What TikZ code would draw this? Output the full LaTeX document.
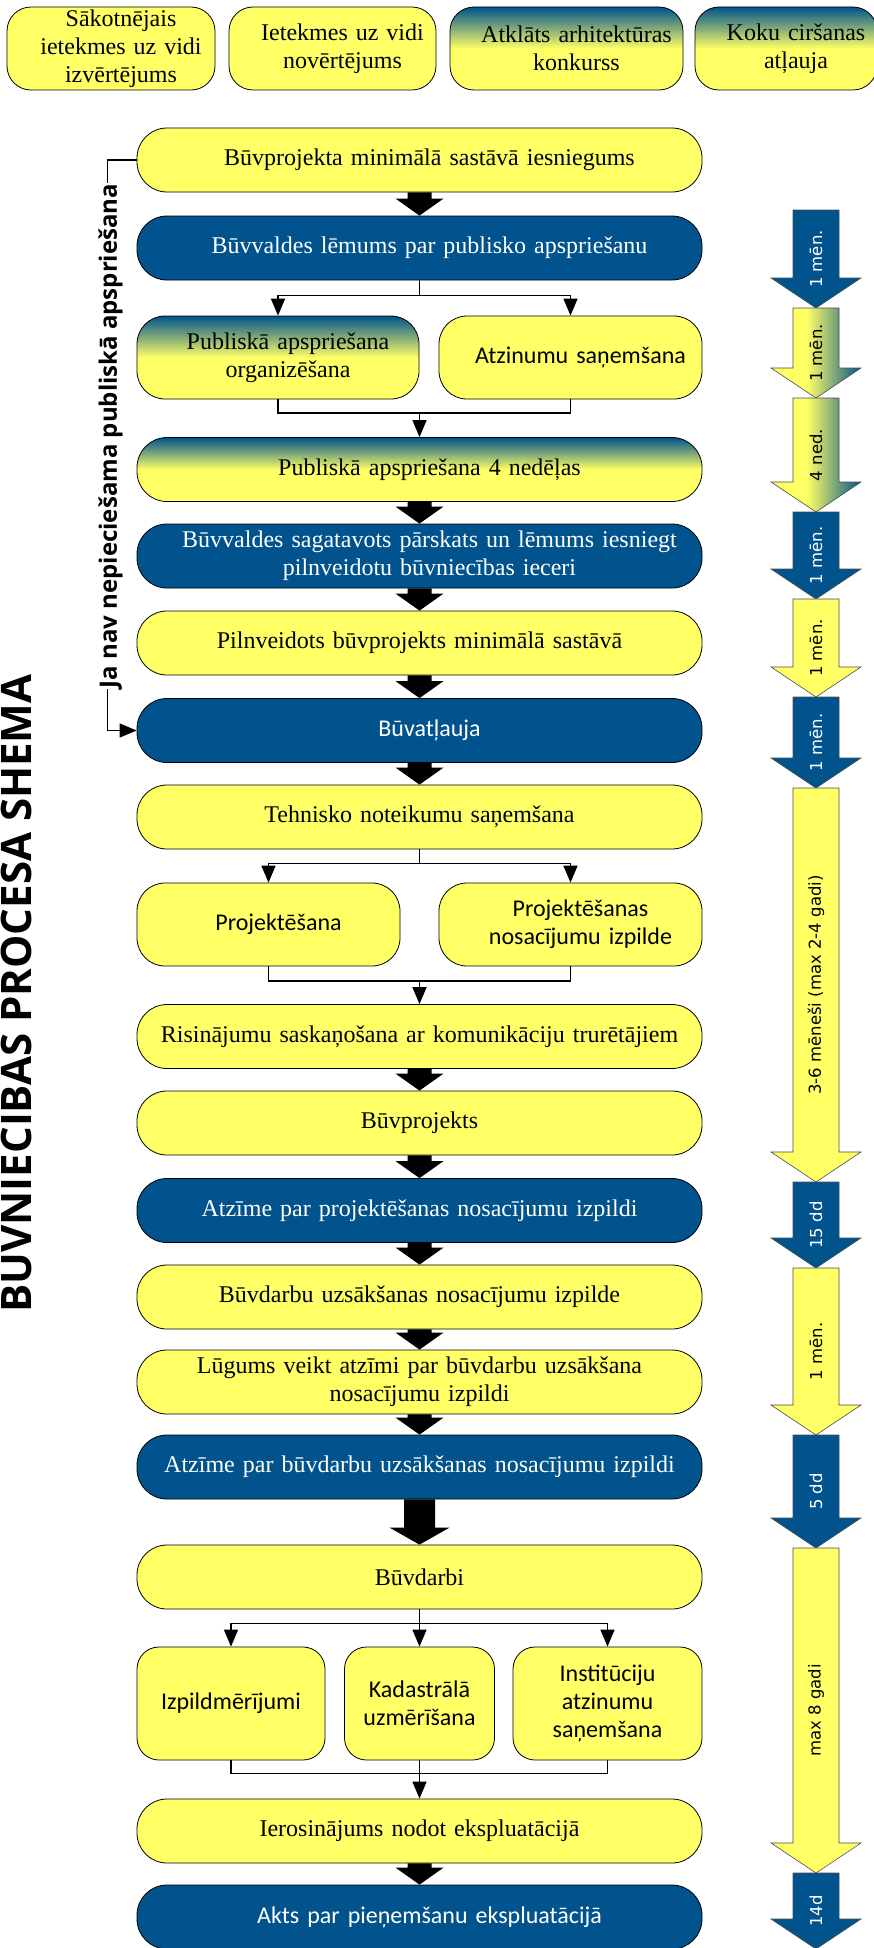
\documentclass[tikz,border=0pt]{standalone}
\usepackage{fontspec}
\setmainfont{Liberation Serif}
\newfontfamily\calibri{Carlito}
\newfontfamily\opensans{Open Sans}
\newfontfamily\dejavu{DejaVu Sans}
\usetikzlibrary{arrows.meta, calc}

\definecolor{boxblue}{RGB}{0,83,141}
\definecolor{boxyellow}{RGB}{255,255,102}

\pgfdeclareverticalshading{bluedown}{100bp}{color(0bp)=(boxyellow); color(25bp)=(boxyellow); color(50bp)=(boxyellow); color(75bp)=(boxblue); color(100bp)=(boxblue)}
\pgfdeclarehorizontalshading{blueright}{100bp}{color(0bp)=(boxyellow); color(25bp)=(boxyellow); color(45bp)=(boxyellow); color(75bp)=(boxblue); color(100bp)=(boxblue)}

\newcommand{\boxfont}{\fontsize{24}{28}\selectfont}
\newcommand{\sansboxfont}{\calibri\fontsize{24}{28}\selectfont}
\newcommand{\durfont}{\dejavu\fontsize{16.5}{18}\selectfont}

\tikzset{
  box/.style={draw=black, line width=0.8pt, align=center, inner sep=2pt, font=\boxfont},
  sans/.style={font=\sansboxfont},
  yellowbox/.style={box, fill=boxyellow},
  bluebox/.style={box, fill=boxblue, text=white},
  fadebox/.style={box, shading=bluedown},
  boxw/.style={minimum width=#1, text width=#1-12pt},
  widebox/.style={boxw=565pt, minimum height=64pt, rounded corners=30pt},
  halfbox/.style={boxw=#1, minimum height=83pt, rounded corners=28pt},
  thirdbox/.style={boxw=#1, minimum height=113pt, rounded corners=22pt},
  topbox/.style={boxw=#1, minimum height=83pt, rounded corners=24pt},
  textoffset/.style={execute at begin node={\advance\leftskip by 20pt}},
  link/.style={line width=1.5pt, -{Triangle[length=17pt,width=14pt]}},
  plainlink/.style={line width=1.5pt},
  durblue/.style={draw=black!70, line width=0.6pt, fill=boxblue},
  duryellow/.style={draw=black!70, line width=0.6pt, fill=boxyellow},
  durfade/.style={draw=black!70, line width=0.6pt, shading=blueright},
  durtextblue/.style={rotate=90, text=white, font=\durfont, inner sep=0pt},
  durtextyellow/.style={rotate=90, font=\durfont, inner sep=0pt},
  durtextfade/.style={rotate=90, font=\durfont, inner sep=0pt}
}

% black block arrow between two boxes: from, to, half shaft, half head
\newcommand{\fatarrow}[4]{%
  \fill ($(#1.south)+(-#3,0)$) -- ($(#1.south)+(#3,0)$) -- ($(#2.north)+(#3,-17)$) -- ($(#2.north)+(#4,-17)$) -- (#2.north) -- ($(#2.north)+(-#4,-17)$) -- ($(#2.north)+(-#3,-17)$) -- cycle;}

% duration arrow on the right: name, top, tip, colour, label
\newcommand{\durarrow}[5]{%
  \draw[dur#4] (793,#2) -- (839,#2) -- (839,{#3-30}) -- (861,{#3-30}) -- (816,#3) -- (771,{#3-30}) -- (793,{#3-30}) -- cycle;
  \node[durtext#4] (#1) at (816,{(#2+#3)/2}) {#5};}

\begin{document}
\begin{tikzpicture}[x=1pt,y=1pt,yscale=-1,xscale=1]
\useasboundingbox (0,0) rectangle (874,1948);

% Text Node
\node[font=\opensans\bfseries\fontsize{42}{42}\selectfont, rotate=90, inner sep=0pt] (virsraksts) at (16,993.5) {BUVNIECIBAS PROCESA SHEMA};

%Shape: top row
\node[yellowbox, topbox=208pt, textoffset] (sakotnejais) at (111,48.5) {Sākotnējais\\ietekmes uz vidi\\izvērtējums};
\node[yellowbox, topbox=207pt, textoffset] (ivn) at (332.5,48.5) {Ietekmes uz vidi\\novērtējums};
\node[fadebox, topbox=233pt, textoffset] (konkurss) at (566.5,48.5) {Atklāts arhitektūras\\konkurss};
\node[fadebox, topbox=182pt, textoffset] (koki) at (786,48.5) {Koku ciršanas\\atļauja};

%Shape: main column
\node[yellowbox, widebox, textoffset] (iesniegums) at (419.5,160) {Būvprojekta minimālā sastāvā iesniegums};
\node[bluebox, widebox, textoffset] (lemums) at (419.5,248) {Būvvaldes lēmums par publisko apspriešanu};
\node[fadebox, halfbox=282pt, textoffset] (organizesana) at (278,357.5) {Publiskā apspriešana\\organizēšana};
\node[yellowbox, sans, halfbox=263pt, textoffset] (atzinumi) at (570.5,357.5) {Atzinumu saņemšana};
\node[fadebox, widebox, textoffset] (apspriesana) at (419.5,469.5) {Publiskā apspriešana 4 nedēļas};
\node[bluebox, widebox, textoffset] (parskats) at (419.5,556) {Būvvaldes sagatavots pārskats un lēmums iesniegt\\pilnveidotu būvniecības ieceri};
\node[yellowbox, widebox] (pilnveidots) at (419.5,643) {Pilnveidots būvprojekts minimālā sastāvā};
\node[bluebox, sans, widebox, textoffset] (buvatlauja) at (419.5,730.5) {Būvatļauja};
\node[yellowbox, widebox] (noteikumi) at (419.5,817) {Tehnisko noteikumu saņemšana};
\node[yellowbox, sans, halfbox=263pt, textoffset] (projektesana) at (268.5,924.5) {Projektēšana};
\node[yellowbox, sans, halfbox=263pt, textoffset] (nosacijumi) at (570.5,924.5) {Projektēšanas\\nosacījumu izpilde};
\node[yellowbox, widebox] (saskanosana) at (419.5,1036.5) {Risinājumu saskaņošana ar komunikāciju trurētājiem};
\node[yellowbox, widebox] (buvprojekts) at (419.5,1123) {Būvprojekts};
\node[bluebox, widebox] (atzimeproj) at (419.5,1210.5) {Atzīme par projektēšanas nosacījumu izpildi};
\node[yellowbox, widebox] (uzsaksana) at (419.5,1297) {Būvdarbu uzsākšanas nosacījumu izpilde};
\node[yellowbox, widebox] (lugums) at (419.5,1382) {Lūgums veikt atzīmi par būvdarbu uzsākšana\\nosacījumu izpildi};
\node[bluebox, widebox] (atzimebuv) at (419.5,1467) {Atzīme par būvdarbu uzsākšanas nosacījumu izpildi};
\node[yellowbox, widebox] (buvdarbi) at (419.5,1577) {Būvdarbi};
\node[yellowbox, sans, thirdbox=188pt] (izpildmer) at (231,1703.5) {Izpildmērījumi};
\node[yellowbox, sans, thirdbox=150pt] (kadastrs) at (419.5,1703.5) {Kadastrālā\\uzmērīšana};
\node[yellowbox, sans, thirdbox=189pt] (institucijas) at (607.5,1703.5) {Institūciju\\atzinumu\\saņemšana};
\node[yellowbox, widebox] (ierosinajums) at (419.5,1831) {Ierosinājums nodot ekspluatācijā};
\node[bluebox, sans, widebox, textoffset] (akts) at (419.5,1917) {Akts par pieņemšanu ekspluatācijā};

%Straight Lines: block arrows
\fatarrow{iesniegums}{lemums}{12}{24}
\fatarrow{apspriesana}{parskats}{12}{24}
\fatarrow{parskats}{pilnveidots}{12}{24}
\fatarrow{pilnveidots}{buvatlauja}{12}{24}
\fatarrow{buvatlauja}{noteikumi}{12}{24}
\fatarrow{saskanosana}{buvprojekts}{12}{24}
\fatarrow{buvprojekts}{atzimeproj}{12}{24}
\fatarrow{atzimeproj}{uzsaksana}{12}{24}
\fatarrow{uzsaksana}{lugums}{12}{24}
\fatarrow{lugums}{atzimebuv}{12}{24}
\fatarrow{atzimebuv}{buvdarbi}{15.5}{30}
\fatarrow{ierosinajums}{akts}{12}{24}

%Straight Lines: branches
\path (lemums.south) ++(0,15) coordinate (lsplit);
\draw[plainlink] (lemums.south) -- (lsplit);
\draw[link] (lsplit) -| (organizesana.north);
\draw[link] (lsplit) -| (atzinumi.north);
\path (apspriesana.north) ++(0,-24) coordinate (cmerge);
\draw[plainlink] (organizesana.south) |- (cmerge) -| (atzinumi.south);
\draw[link] (cmerge) -- (apspriesana.north);

\path (noteikumi.south) ++(0,14) coordinate (nsplit);
\draw[plainlink] (noteikumi.south) -- (nsplit);
\draw[link] (nsplit) -| (projektesana.north);
\draw[link] (nsplit) -| (nosacijumi.north);
\path (saskanosana.north) ++(0,-23) coordinate (pmerge);
\draw[plainlink] (projektesana.south) |- (pmerge) -| (nosacijumi.south);
\draw[link] (pmerge) -- (saskanosana.north);

\path (buvdarbi.south) ++(0,14) coordinate (bsplit);
\draw[link] (buvdarbi.south) -- (kadastrs.north);
\draw[link] (bsplit) -| (izpildmer.north);
\draw[link] (bsplit) -| (institucijas.north);
\path (ierosinajums.north) ++(0,-25) coordinate (qmerge);
\draw[plainlink] (izpildmer.south) |- (qmerge) -| (institucijas.south);
\draw[link] (kadastrs.south) -- (ierosinajums.north);

%Straight Lines: bypass
\draw[link] (iesniegums.west) -- ++(-29,0) |- (buvatlauja.west);
% Text Node
\node[font=\opensans\bfseries\fontsize{24}{24}\selectfont, rotate=90, fill=white, inner sep=1pt] (bezapspriesanas) at (110.5,436) {Ja nav nepieciešama publiskā apspriešana};

%Shape: durations
\durarrow{d1}{210}{308}{blue}{1 mēn.}
\durarrow{d2}{308}{398}{fade}{1 mēn.}
\durarrow{d3}{398}{512}{fade}{4 ned.}
\durarrow{d4}{512}{599}{blue}{1 mēn.}
\durarrow{d5}{599}{697}{yellow}{1 mēn.}
\durarrow{d6}{697}{788}{blue}{1 mēn.}
\durarrow{d7}{788}{1182}{yellow}{3-6 mēneši (max 2-4 gadi)}
\durarrow{d8}{1182}{1268}{blue}{15 dd}
\durarrow{d9}{1268}{1435}{yellow}{1 mēn.}
\durarrow{d10}{1435}{1548}{blue}{5 dd}
\durarrow{d11}{1548}{1873}{yellow}{max 8 gadi}
\durarrow{d12}{1873}{1949}{blue}{14d}

\end{tikzpicture}
\end{document}
